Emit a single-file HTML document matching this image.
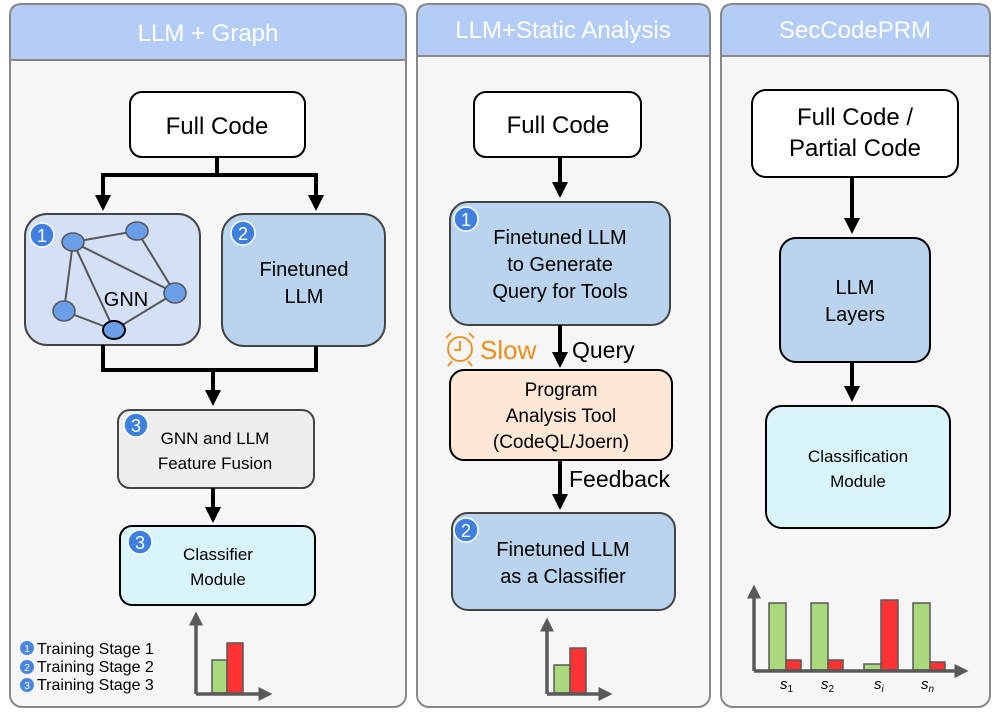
<!DOCTYPE html><html><head><style>body{margin:0;background:#fff}svg{display:block}text{font-family:"Liberation Sans",sans-serif}</style></head><body>
<svg width="996" height="718" viewBox="0 0 996 718" xmlns="http://www.w3.org/2000/svg">
<defs>
<marker id="a" markerWidth="4" markerHeight="4" refX="2" refY="2" orient="auto" markerUnits="strokeWidth"><path d="M0,0L4,2L0,4z" fill="#000"/></marker>
<marker id="g" markerWidth="4" markerHeight="4" refX="1" refY="2" orient="auto" markerUnits="strokeWidth"><path d="M0,0L4,2L0,4z" fill="#595959"/></marker>
</defs>
<g stroke="#888" stroke-width="2">
<rect x="10" y="4" width="396" height="703" rx="12" fill="#f6f6f6"/>
<path d="M10,60V16Q10,4 22,4H394Q406,4 406,16V60Z" fill="#b3cdf7"/>
<rect x="417" y="4" width="293" height="703" rx="12" fill="#f6f6f6"/>
<path d="M417,56V16Q417,4 429,4H698Q710,4 710,16V56Z" fill="#b3cdf7"/>
<rect x="721" y="4" width="269" height="703" rx="12" fill="#f6f6f6"/>
<path d="M721,56V16Q721,4 733,4H978Q990,4 990,16V56Z" fill="#b3cdf7"/>
</g>
<g fill="#fff" font-size="24" text-anchor="middle">
<text x="208" y="41">LLM + Graph</text><text x="563" y="38">LLM+Static Analysis</text><text x="855" y="38">SecCodePRM</text>
</g>
<g stroke="#000" stroke-width="2">
<rect x="130" y="92" width="175" height="65" rx="12" fill="#fff"/>
<rect x="25" y="214" width="175" height="131" rx="22" fill="#d3e0f6" stroke="#444"/>
<rect x="222" y="214" width="163" height="132" rx="22" fill="#bad4ee" stroke="#444"/>
<rect x="118" y="410" width="196" height="78" rx="12" fill="#eeeeee" stroke="#444"/>
<rect x="120" y="526" width="195" height="79" rx="12" fill="#d9f5f9"/>
<rect x="474" y="92" width="167" height="65" rx="12" fill="#fff"/>
<rect x="450" y="202" width="220" height="123" rx="18" fill="#bad4ee" stroke="#444"/>
<rect x="450" y="370" width="222" height="90" rx="14" fill="#fce8d4"/>
<rect x="452" y="513" width="223" height="97" rx="16" fill="#bad4ee" stroke="#444"/>
<rect x="752" y="90" width="206" height="87" rx="14" fill="#fff"/>
<rect x="780" y="238" width="150" height="124" rx="16" fill="#bad4ee"/>
<rect x="766" y="406" width="184" height="122" rx="16" fill="#d9f5f9"/>
</g>
<g stroke="#000" stroke-width="4" fill="none">
<path d="M217,157V175M101,175H318"/>
<path d="M103,175V203" marker-end="url(#a)"/>
<path d="M316,175V203" marker-end="url(#a)"/>
<path d="M103,345V370H316V346"/><path d="M213,370V398" marker-end="url(#a)"/>
<path d="M213,488V515" marker-end="url(#a)"/>
<path d="M560,157V190" marker-end="url(#a)"/>
<path d="M560,325V360" marker-end="url(#a)"/>
<path d="M560,460V502" marker-end="url(#a)"/>
<path d="M852,177V226" marker-end="url(#a)"/>
<path d="M852,362V394" marker-end="url(#a)"/>
</g>
<g stroke="#555" stroke-width="2" fill="none">
<path d="M73,242L137,231L175,293L73,242L64,311L114,330L73,242M137,231L175,293L114,330"/>
</g>
<g fill="#6b9ee8" stroke="#555" stroke-width="1.5">
<ellipse cx="73" cy="242" rx="11" ry="9"/><ellipse cx="137" cy="231" rx="11" ry="9"/><ellipse cx="175" cy="293" rx="11" ry="10"/><ellipse cx="64" cy="311" rx="11" ry="10"/><ellipse cx="114" cy="330" rx="11" ry="9" stroke="#000" stroke-width="2"/>
</g>
<g fill="#000" text-anchor="middle">
<text x="217" y="134" font-size="24">Full Code</text>
<text x="126" y="306" font-size="20">GNN</text>
<text x="304" y="276" font-size="20">Finetuned</text><text x="304" y="303" font-size="20">LLM</text>
<text x="215" y="444" font-size="17">GNN and LLM</text><text x="215" y="469" font-size="17">Feature Fusion</text>
<text x="218" y="560" font-size="17">Classifier</text><text x="218" y="585" font-size="17">Module</text>
<text x="558" y="133" font-size="24">Full Code</text>
<text x="560" y="244" font-size="20">Finetuned LLM</text><text x="560" y="271" font-size="20">to Generate</text><text x="560" y="298" font-size="20">Query for Tools</text>
<text x="561" y="396" font-size="19">Program</text><text x="561" y="422" font-size="19">Analysis Tool</text><text x="561" y="448" font-size="19">(CodeQL/Joern)</text>
<text x="563" y="556" font-size="20">Finetuned LLM</text><text x="563" y="583" font-size="20">as a Classifier</text>
<text x="855" y="125" font-size="24">Full Code /</text><text x="855" y="156" font-size="24">Partial Code</text>
<text x="855" y="294" font-size="20">LLM</text><text x="855" y="321" font-size="20">Layers</text>
<text x="858" y="462" font-size="17">Classification</text><text x="858" y="487" font-size="17">Module</text>
</g>
<text x="572" y="358" font-size="23">Query</text>
<text x="569" y="487" font-size="23">Feedback</text>
<text x="480" y="359" font-size="26" fill="#f08c1a">Slow</text>
<g stroke="#f08c1a" stroke-width="1.8" fill="none"><circle cx="460" cy="349" r="12"/><path d="M460,341V350H454M446,338l5,-5M474,338l-5,-5M452,361l-4,5M468,361l4,5"/></g>
<g font-size="18" fill="#fff" text-anchor="middle">
<circle cx="42" cy="235" r="12" fill="#3f7fe0" stroke="#fff" stroke-width="1.5"/><text x="42" y="242">1</text>
<circle cx="243" cy="233" r="12" fill="#3f7fe0" stroke="#fff" stroke-width="1.5"/><text x="243" y="240">2</text>
<circle cx="136" cy="425" r="12" fill="#3f7fe0" stroke="#fff" stroke-width="1.5"/><text x="136" y="432">3</text>
<circle cx="140" cy="542" r="12" fill="#3f7fe0" stroke="#fff" stroke-width="1.5"/><text x="140" y="549">3</text>
<circle cx="466" cy="219" r="12" fill="#3f7fe0" stroke="#fff" stroke-width="1.5"/><text x="466" y="226">1</text>
<circle cx="466" cy="530" r="12" fill="#3f7fe0" stroke="#fff" stroke-width="1.5"/><text x="466" y="537">2</text>
</g>
<g font-size="10" fill="#fff" text-anchor="middle">
<circle cx="27" cy="648" r="7" fill="#4a86e0"/><text x="27" y="652">1</text>
<circle cx="27" cy="667" r="7" fill="#4a86e0"/><text x="27" y="671">2</text>
<circle cx="27" cy="685" r="7" fill="#4a86e0"/><text x="27" y="689">3</text>
</g>
<g font-size="16" fill="#000"><text x="37" y="654">Training Stage 1</text><text x="37" y="672">Training Stage 2</text><text x="37" y="690">Training Stage 3</text></g>
<g stroke="#595959" stroke-width="1.5">
<rect x="212" y="660" width="15" height="33" fill="#a9d97a"/><rect x="227" y="643" width="16" height="50" fill="#f33"/>
<rect x="554" y="665" width="16" height="28" fill="#a9d97a"/><rect x="570" y="648" width="16" height="45" fill="#f33"/>
<rect x="769" y="603" width="17" height="67" fill="#a9d97a"/><rect x="786" y="660" width="15" height="10" fill="#f33"/>
<rect x="811" y="603" width="17" height="67" fill="#a9d97a"/><rect x="828" y="660" width="15" height="10" fill="#f33"/>
<rect x="864" y="664" width="17" height="6" fill="#a9d97a"/><rect x="881" y="600" width="17" height="70" fill="#f33"/>
<rect x="913" y="603" width="17" height="67" fill="#a9d97a"/><rect x="930" y="662" width="15" height="8" fill="#f33"/>
</g>
<g stroke="#595959" stroke-width="3.5" fill="none">
<path d="M196,694V622" marker-end="url(#g)"/><path d="M196,694H262" marker-end="url(#g)"/>
<path d="M547,694V628" marker-end="url(#g)"/><path d="M547,694H602" marker-end="url(#g)"/>
<path d="M754,671V595" marker-end="url(#g)"/><path d="M754,671H958" marker-end="url(#g)"/>
</g>
<g font-family="Liberation Serif" font-style="italic" font-size="15" fill="#000">
<text x="780" y="689">s<tspan font-size="10" dy="3" font-style="normal">1</tspan></text>
<text x="821" y="689">s<tspan font-size="10" dy="3" font-style="normal">2</tspan></text>
<text x="874" y="689">s<tspan font-size="10" dy="3">i</tspan></text>
<text x="921" y="689">s<tspan font-size="10" dy="3">n</tspan></text>
</g>
</svg></body></html>
